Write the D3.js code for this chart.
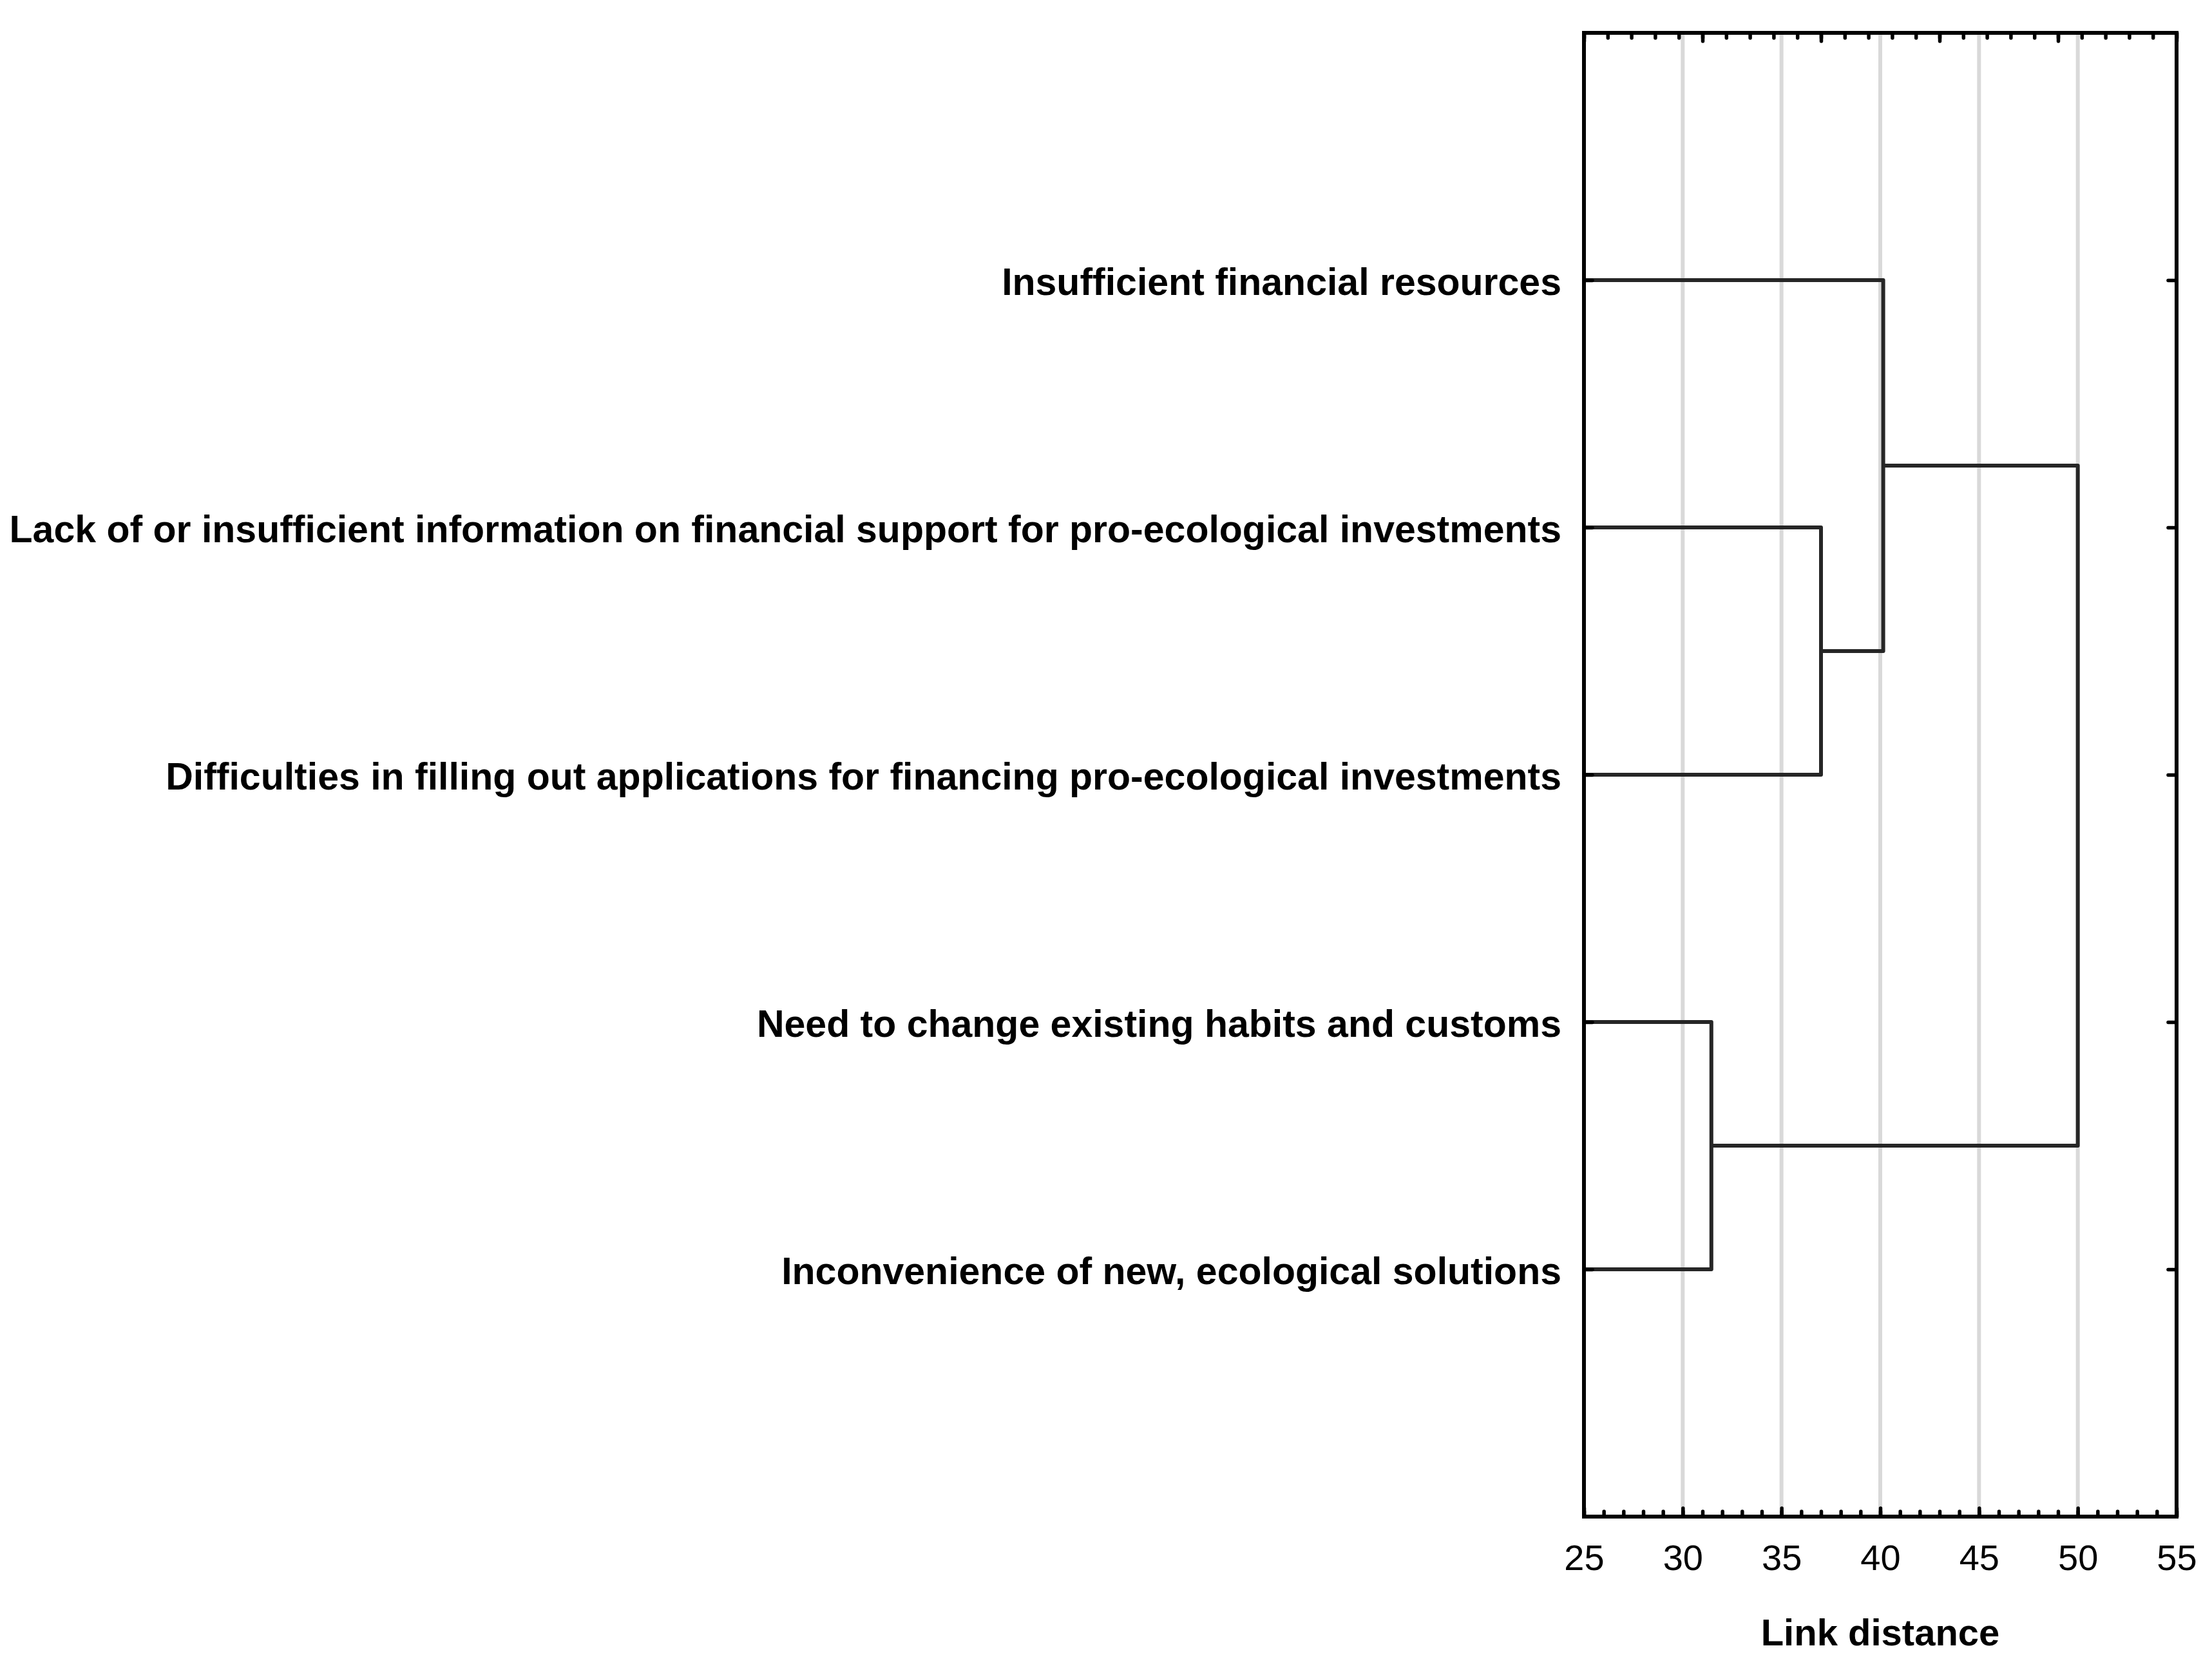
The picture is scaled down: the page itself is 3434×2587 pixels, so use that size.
<!DOCTYPE html>
<html><head><meta charset="utf-8">
<script src="https://cdn.jsdelivr.net/npm/d3@7"></script>
<style>body{margin:0;background:#fff}svg{display:block}</style>
</head><body>
<svg id="chart" width="3434" height="2587"></svg>
<script>
// ---- data ----
const leafLabels = [
  "Insufficient financial resources",
  "Lack of or insufficient information on financial support for pro-ecological investments",
  "Difficulties in filling out applications for financing pro-ecological investments",
  "Need to change existing habits and customs",
  "Inconvenience of new, ecological solutions"
];
// merges: children are leaf indices (numbers) or earlier merge names (strings)
const merges = [
  {name: "A", children: [1, 2], dist: 37.0},
  {name: "B", children: [0, "A"], dist: 40.15},
  {name: "C", children: [3, 4], dist: 31.45},
  {name: "D", children: ["B", "C"], dist: 50.0}
];
const xDomain = [25, 55];
const xTickValues = [25, 30, 35, 40, 45, 50, 55];
const xMinorValues = d3.range(25, 56, 1);
const gridValues = [30, 35, 40, 45, 50];
const topDomain = [0, 25];
const topMajor = d3.range(0, 26, 5);
const topMinor = d3.range(0, 26, 1);
const xTitle = "Link distance";

// ---- layout ----
const L = 2459, R = 3379, T = 51, B = 2355;
const svg = d3.select("#chart");
const x = d3.scaleLinear().domain(xDomain).range([L, R]);
const xTop = d3.scaleLinear().domain(topDomain).range([L, R]);
const y = d3.scalePoint().domain(leafLabels).range([T, B]).padding(1);

// grid
svg.append("g").selectAll("line").data(gridValues).join("line")
  .attr("x1", d => x(d)).attr("x2", d => x(d))
  .attr("y1", T).attr("y2", B)
  .attr("stroke", "#d9d9d9").attr("stroke-width", 6);

// node positions
const pos = {};
leafLabels.forEach((l, i) => { pos[i] = {x: x(xDomain[0]), y: y(l)}; });
merges.forEach(m => {
  const [a, b] = m.children.map(c => pos[c]);
  pos[m.name] = {x: x(m.dist), y: (a.y + b.y) / 2, a, b};
});

// links
svg.append("g").selectAll("path").data(merges).join("path")
  .attr("d", m => {
    const p = pos[m.name];
    return `M${p.a.x},${p.a.y}H${p.x}V${p.b.y}H${p.b.x}`;
  })
  .attr("fill", "none").attr("stroke", "#262626").attr("stroke-width", 6)
  .attr("stroke-linejoin", "round");

function clean(g) {
  g.select(".domain").remove();
  g.selectAll("line").attr("stroke", "#000").attr("stroke-width", 5.5).attr("stroke-linecap", "round");
}

// bottom axis minor
svg.append("g").attr("transform", `translate(0,${B})`)
  .call(d3.axisBottom(x).tickValues(xMinorValues).tickSize(-8).tickFormat(""))
  .call(clean);
// bottom axis major
svg.append("g").attr("transform", `translate(0,${B})`)
  .call(d3.axisBottom(x).tickValues(xTickValues).tickSize(-13).tickPadding(43).tickFormat(d3.format("d")))
  .call(clean)
  .call(g => g.selectAll("text").attr("font-family", "'Liberation Sans', Arial, sans-serif")
    .attr("font-size", 56).attr("fill", "#000"));

// top axis minor + major (no labels)
svg.append("g").attr("transform", `translate(0,${T})`)
  .call(d3.axisTop(xTop).tickValues(topMinor).tickSize(-8).tickFormat(""))
  .call(clean);
svg.append("g").attr("transform", `translate(0,${T})`)
  .call(d3.axisTop(xTop).tickValues(topMajor).tickSize(-13).tickFormat(""))
  .call(clean);

// right axis ticks
svg.append("g").attr("transform", `translate(${R},0)`)
  .call(d3.axisRight(y).tickSize(-13).tickFormat(""))
  .call(clean);

// left axis with labels
svg.append("g").attr("transform", `translate(${L},0)`)
  .call(d3.axisLeft(y).tickSize(-13).tickPadding(35))
  .call(clean)
  .call(g => g.selectAll("text")
    .attr("font-family", "'Liberation Sans', Arial, sans-serif")
    .attr("font-weight", "bold").attr("font-size", 59)
    .attr("fill", "#000").attr("dy", "0.385em"));

// frame
svg.append("rect").attr("x", L).attr("y", T).attr("width", R - L).attr("height", B - T)
  .attr("fill", "none").attr("stroke", "#000").attr("stroke-width", 6);

// title
svg.append("text").attr("x", (L + R) / 2).attr("y", 2555)
  .attr("text-anchor", "middle")
  .attr("font-family", "'Liberation Sans', Arial, sans-serif")
  .attr("font-weight", "bold").attr("font-size", 58).attr("fill", "#000")
  .text(xTitle);
</script>
</body></html>
